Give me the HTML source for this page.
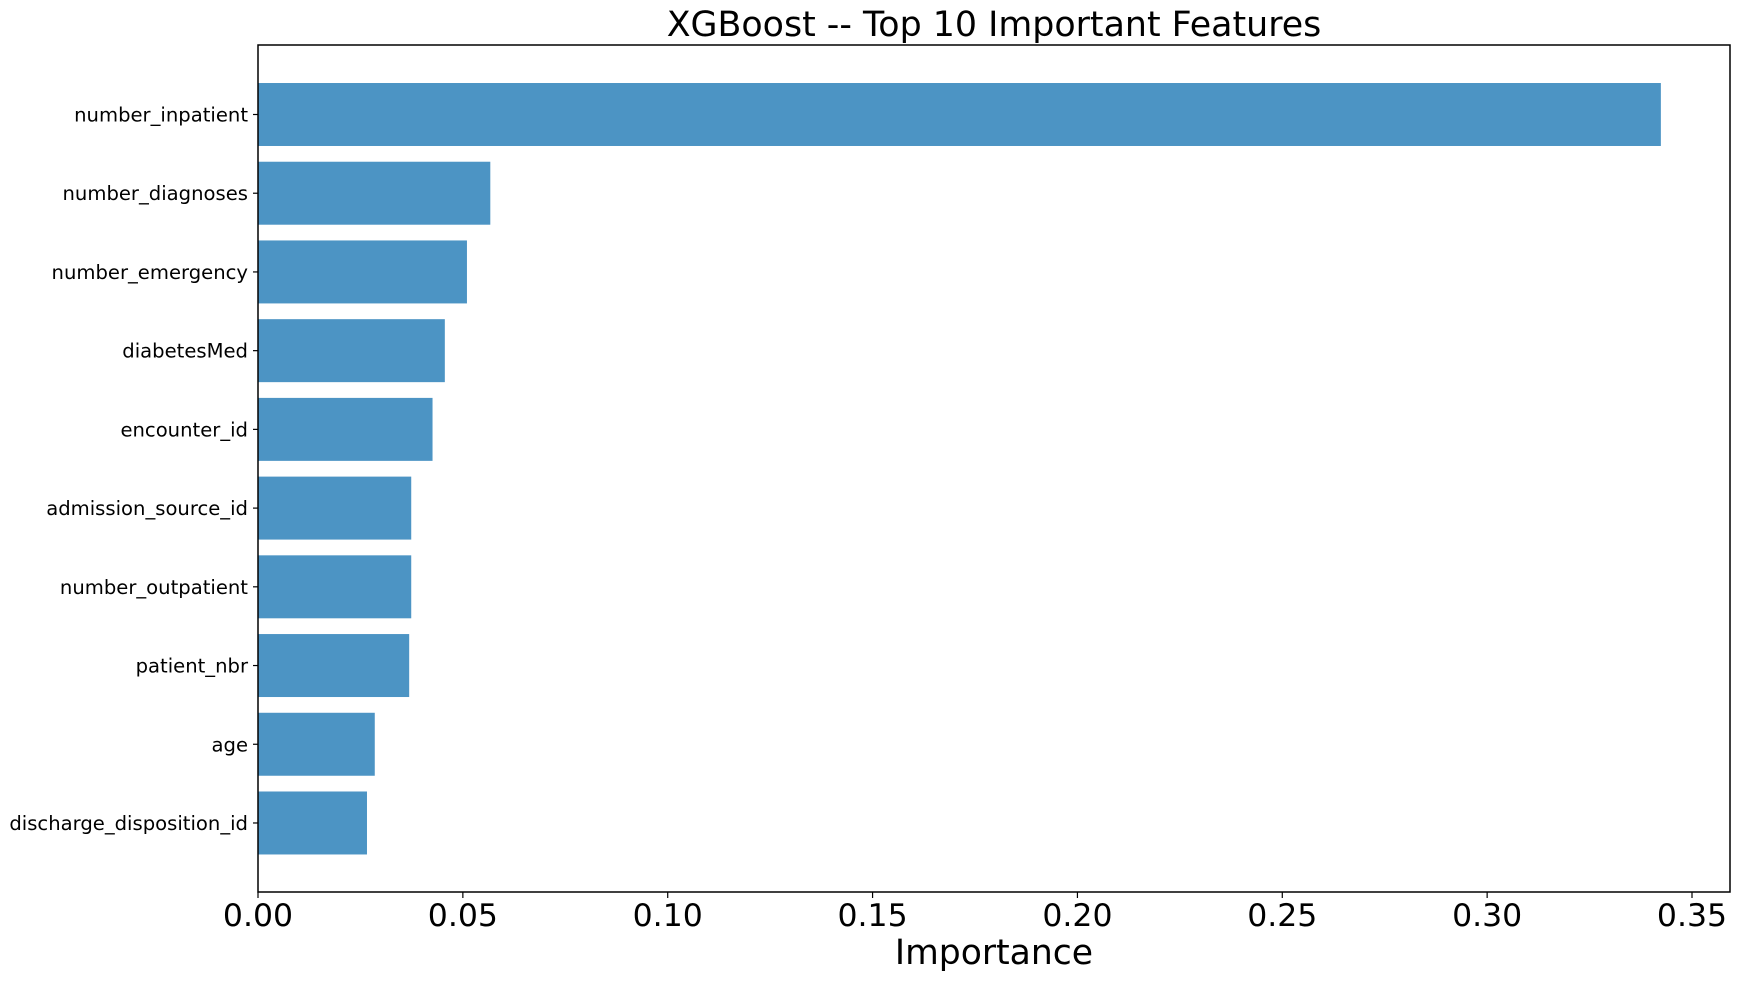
<!DOCTYPE html>
<html><head><meta charset="utf-8"><style>
body{margin:0;background:#fff}
svg text{font-family:"DejaVu Sans","Liberation Sans",sans-serif;fill:#000}
</style></head><body>
<svg id="chart" width="1740" height="980" xmlns="http://www.w3.org/2000/svg">
<text x="994" y="36" font-size="34.8" text-anchor="middle">XGBoost -- Top 10 Important Features</text>
<text x="994" y="964" font-size="34.6" text-anchor="middle">Importance</text>
<g id="marks"></g>
<rect x="258" y="45" width="1472" height="847" fill="none" stroke="#000" stroke-width="1.5"/>
</svg>
<script>
const features = ["number_inpatient","number_diagnoses","number_emergency","diabetesMed","encounter_id","admission_source_id","number_outpatient","patient_nbr","age","discharge_disposition_id"];
const importance = [0.3424,0.0567,0.0510,0.0456,0.0426,0.0374,0.0374,0.0369,0.0285,0.0266];
const xTicks = [0,0.05,0.10,0.15,0.20,0.25,0.30,0.35];
const xTickLabels = ["0.00","0.05","0.10","0.15","0.20","0.25","0.30","0.35"];
const L=258,T=45,B=892,R=1730;
const xs = v => L + v*(1692-L)/0.35;
const step=78.72, y0=114.5;
const ys = i => y0 + i*step;
const g=document.getElementById('marks');
const NS="http://www.w3.org/2000/svg";
function mk(t,a){const e=document.createElementNS(NS,t);for(const k in a)e.setAttribute(k,a[k]);g.appendChild(e);return e;}
features.forEach((f,i)=>{
  const r=mk('rect',{x:L,y:ys(i)-step*0.4,width:xs(importance[i])-L,height:step*0.8,fill:'#4c94c4'});
  
  
  const tk=mk('line',{x1:L-5,x2:L,y1:ys(i),y2:ys(i),stroke:'#000','stroke-width':1.2});
  
  
  const t=mk('text',{x:L-10,y:ys(i)+7,'font-size':19.6,'text-anchor':'end'});
  t.textContent=f;
  
  
});
xTicks.forEach((v,i)=>{
  const tk=mk('line',{x1:xs(v),x2:xs(v),y1:B,y2:B+6,stroke:'#000','stroke-width':1.2});
  
  
  const t=mk('text',{x:xs(v),y:926,'font-size':31.5,'text-anchor':'middle'});
  t.textContent=xTickLabels[i];
  
  
});
</script>
</body></html>
